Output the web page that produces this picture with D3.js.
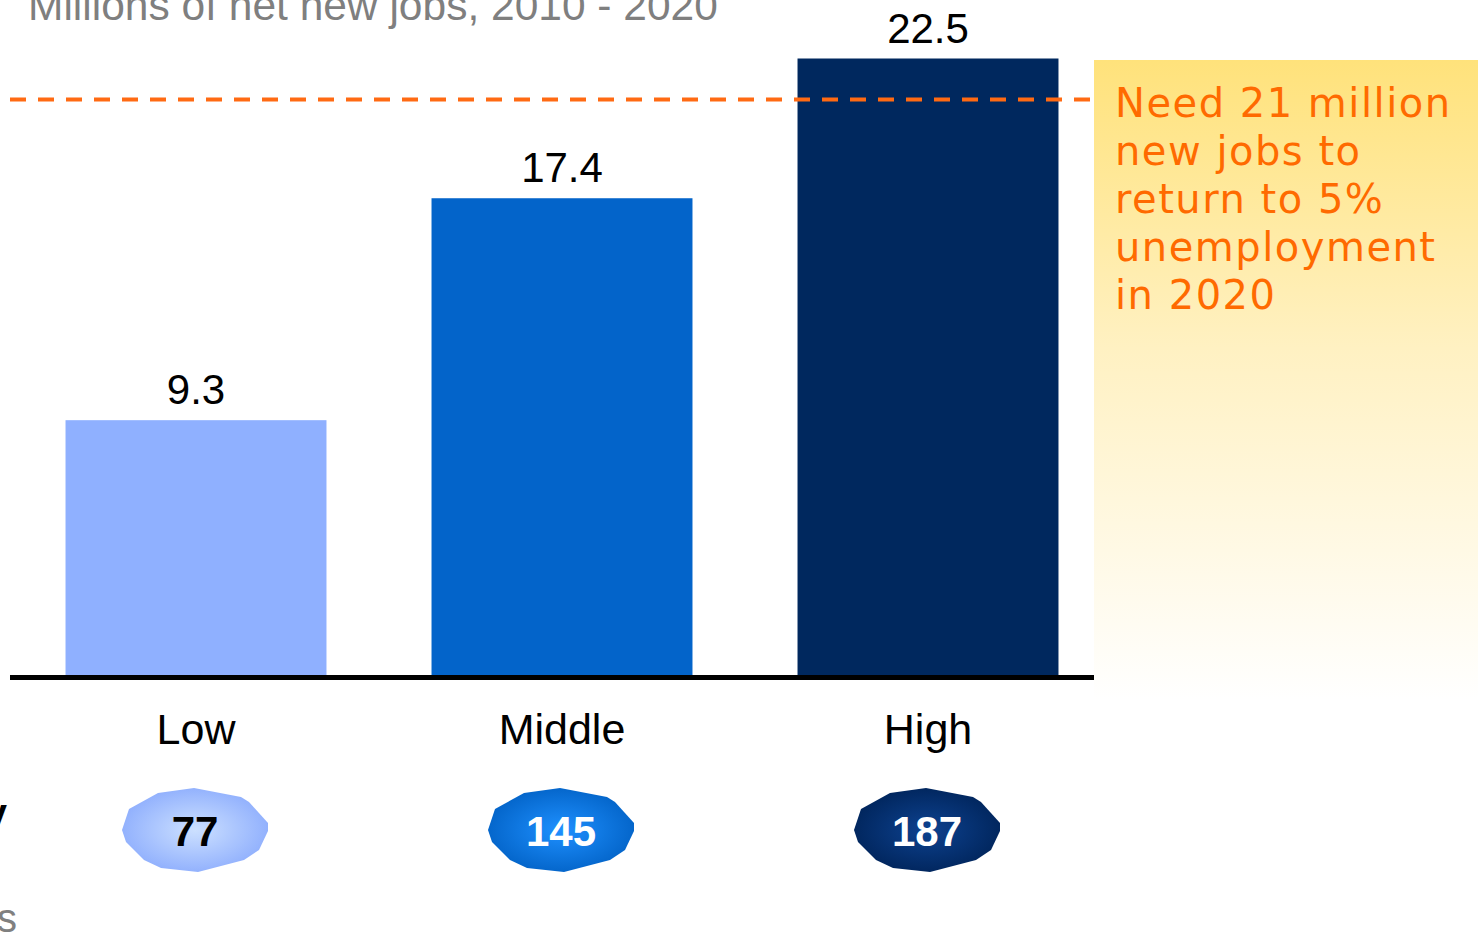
<!DOCTYPE html>
<html>
<head>
<meta charset="utf-8">
<script src="https://cdn.jsdelivr.net/npm/d3@7"></script>
<style>
  body { margin: 0; background: #fff; }
  svg { display: block; }
</style>
</head>
<body>
<div id="chart"></div>
<script>
// data
const categories = ["Low", "Middle", "High"];
const jobs = [9.3, 17.4, 22.5];            // millions of net new jobs
const badgeValues = [77, 145, 187];
const targetJobs = 21;                     // dashed reference line
const calloutLines = ["Need 21 million", "new jobs to", "return to 5%", "unemployment", "in 2020"];

var width = 1478, height = 938;
var baseY = 675, axisLeft = 10, axisRight = 1094;

var svg = d3.select("#chart").append("svg")
    .attr("width", width)
    .attr("height", height);

var defs = svg.append("defs");

// colours
var barColor = d3.scaleOrdinal().domain(categories).range(["#8FB0FF", "#0364CA", "#00285E"]);
var badgeInner = d3.scaleOrdinal().domain(categories).range(["#CCE0FF", "#1E90FF", "#0D4290"]);
var badgeOuter = d3.scaleOrdinal().domain(categories).range(["#8DADFD", "#0262C6", "#00245A"]);
var badgeText = d3.scaleOrdinal().domain(categories).range(["#000", "#fff", "#fff"]);

// scales
var x = d3.scaleBand()
    .domain(categories)
    .range([13, 1111])
    .paddingInner(0.287)
    .paddingOuter(0.1435);

var y = d3.scaleLinear()
    .domain([0, 22.5])
    .range([baseY, 58.5]);

// callout box with yellow fade
var grad = defs.append("linearGradient").attr("id", "callout").attr("x1", 0).attr("y1", 0).attr("x2", 0).attr("y2", 1);
grad.append("stop").attr("offset", "0%").attr("stop-color", "#FFE27B");
grad.append("stop").attr("offset", "45%").attr("stop-color", "#FFF1C2");
grad.append("stop").attr("offset", "100%").attr("stop-color", "#FFFFFF");

svg.append("rect")
    .attr("x", 1094).attr("y", 60)
    .attr("width", width - 1094).attr("height", 640)
    .attr("fill", "url(#callout)");

svg.append("g").selectAll("text")
    .data(calloutLines)
    .enter().append("text")
    .attr("x", 1115)
    .attr("y", function(d, i) { return 117 + i * 48; })
    .text(function(d) { return d; })
    .style("font-family", "'DejaVu Sans', Verdana, sans-serif")
    .style("font-size", "40px")
    .style("letter-spacing", "1.5px")
    .style("fill", "#FF6A00");

// title (cut at the top)
svg.append("text")
    .attr("x", 28).attr("y", 20)
    .text("Millions of net new jobs, 2010 - 2020")
    .style("font-family", "'Liberation Sans', Arial, sans-serif")
    .style("font-size", "42.5px")
    .style("fill", "#7F7F7F");

// bars
svg.append("g").selectAll("rect")
    .data(jobs)
    .enter().append("rect")
    .attr("x", function(d, i) { return x(categories[i]); })
    .attr("y", function(d) { return y(d); })
    .attr("width", x.bandwidth())
    .attr("height", function(d) { return baseY - y(d); })
    .attr("fill", function(d, i) { return barColor(categories[i]); });

// value labels
svg.append("g").selectAll("text")
    .data(jobs)
    .enter().append("text")
    .attr("x", function(d, i) { return x(categories[i]) + x.bandwidth() / 2; })
    .attr("y", function(d) { return y(d) - 16; })
    .attr("text-anchor", "middle")
    .text(function(d) { return d.toFixed(1); })
    .style("font-family", "'Liberation Sans', Arial, sans-serif")
    .style("font-size", "42px")
    .style("fill", "#000");

// dashed target line
svg.append("line")
    .attr("x1", axisLeft).attr("x2", axisRight)
    .attr("y1", y(targetJobs)).attr("y2", y(targetJobs))
    .attr("stroke", "#FF6A13")
    .attr("stroke-width", 4)
    .attr("stroke-dasharray", "16,12");

// baseline
svg.append("line")
    .attr("x1", axisLeft).attr("x2", axisRight)
    .attr("y1", baseY + 2.5).attr("y2", baseY + 2.5)
    .attr("stroke", "#000")
    .attr("stroke-width", 5);

// category labels
svg.append("g").selectAll("text")
    .data(categories)
    .enter().append("text")
    .attr("x", function(d) { return x(d) + x.bandwidth() / 2; })
    .attr("y", 744)
    .attr("text-anchor", "middle")
    .text(function(d) { return d; })
    .style("font-family", "'Liberation Sans', Arial, sans-serif")
    .style("font-size", "43px")
    .style("fill", "#000");

// badges: irregular blobs with radial shading
var blob = [[-73,0],[-66,-21],[-37,-37],[-1,-42],[46,-33],[54,-28],[73,-7],[73,1],
            [64,20],[49,30],[3,42],[-34,38],[-51,30],[-69,12]];
var blobPath = d3.line().curve(d3.curveLinearClosed)(blob);

categories.forEach(function(c, i) {
    var rg = defs.append("radialGradient").attr("id", "badge" + i)
        .attr("cx", "50%").attr("cy", "50%").attr("r", "55%");
    rg.append("stop").attr("offset", "0%").attr("stop-color", badgeInner(c));
    rg.append("stop").attr("offset", "100%").attr("stop-color", badgeOuter(c));
});

var badges = svg.append("g").selectAll("g")
    .data(badgeValues)
    .enter().append("g")
    .attr("transform", function(d, i) { return "translate(" + (x(categories[i]) + x.bandwidth() / 2 - 1) + ",830)"; });

badges.append("path")
    .attr("d", blobPath)
    .attr("fill", function(d, i) { return "url(#badge" + i + ")"; });

badges.append("text")
    .attr("y", 16)
    .attr("text-anchor", "middle")
    .text(function(d) { return d; })
    .style("font-family", "'Liberation Sans', Arial, sans-serif")
    .style("font-weight", "bold")
    .style("font-size", "42px")
    .style("fill", function(d, i) { return badgeText(categories[i]); });

// row labels cut off at the left edge
svg.append("text")
    .attr("x", 7).attr("y", 827)
    .attr("text-anchor", "end")
    .text("y")
    .style("font-family", "'Liberation Sans', Arial, sans-serif")
    .style("font-weight", "bold")
    .style("font-size", "40px")
    .style("fill", "#000");

svg.append("text")
    .attr("x", 17).attr("y", 932)
    .attr("text-anchor", "end")
    .text("s")
    .style("font-family", "'Liberation Sans', Arial, sans-serif")
    .style("font-size", "40px")
    .style("fill", "#808080");
</script>
</body>
</html>
